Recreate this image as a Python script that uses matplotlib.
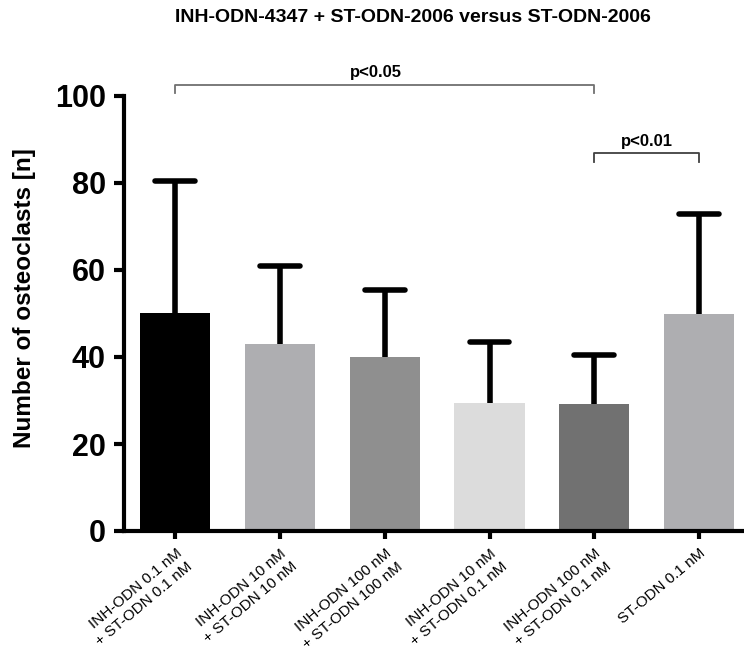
import matplotlib
matplotlib.use("Agg")
import matplotlib.pyplot as plt
import numpy as np

categories = ["INH-ODN 0.1 nM\n+ ST-ODN 0.1 nM",
              "INH-ODN 10 nM\n+ ST-ODN 10 nM",
              "INH-ODN 100 nM\n+ ST-ODN 100 nM",
              "INH-ODN 10 nM\n+ ST-ODN 0.1 nM",
              "INH-ODN 100 nM\n+ ST-ODN 0.1 nM",
              "ST-ODN 0.1 nM"]
means = [50.1, 43.0, 40.0, 29.5, 29.2, 49.8]
sd_upper = [30.4, 18.0, 15.5, 14.0, 11.2, 23.0]
colors = ["#000000", "#aeaeb1", "#8f8f8f", "#dcdcdc", "#717171", "#aeaeb1"]
yticks = [0, 20, 40, 60, 80, 100]

plt.rcParams['font.family'] = ['Liberation Sans', 'DejaVu Sans']

fig = plt.figure(figsize=(7.44, 6.55), dpi=100)
W, H = 744, 655
ax_left, ax_right = 124, 744
ax_bottom, ax_top = 531, 96
ax = fig.add_axes([ax_left / W, 1 - ax_bottom / H, (ax_right - ax_left) / W, (ax_bottom - ax_top) / H])
ax.patch.set_alpha(0)

x = np.arange(len(means))
top = np.array(means) + np.array(sd_upper)
ax.bar(x, means, width=0.67, color=colors, edgecolor='none', zorder=2)
ax.vlines(x, means, top, color='black', lw=4, zorder=3)
ax.hlines(top, x - 0.19, x + 0.19, color='black', lw=4, zorder=3, capstyle='round')

ax.set_xlim(-0.49, 5.43)
ax.set_ylim(0, 100)
for s in ['top', 'right']:
    ax.spines[s].set_visible(False)
for s in ['left', 'bottom']:
    ax.spines[s].set_linewidth(3)

ax.set_yticks(yticks)
ax.set_yticklabels([str(v) for v in yticks], fontsize=22, fontweight='bold')
ax.tick_params(axis='y', length=7, width=3, pad=6)
ax.tick_params(axis='x', length=6, width=3, pad=5)
ax.set_xticks(x)
ax.set_xticklabels(categories, rotation=40, ha='right', rotation_mode='anchor',
                   fontsize=11, multialignment='right', linespacing=1.3)

ax.set_ylabel("Number of osteoclasts [n]", fontsize=17.5, fontweight='bold')
ax.yaxis.set_label_coords((36 - ax_left) / (ax_right - ax_left), 0.535)

fig.text(413 / W, 1 - 18 / H, "INH-ODN-4347 + ST-ODN-2006 versus ST-ODN-2006",
         ha='center', va='center', fontsize=14, fontweight='bold')

# significance brackets (in data coordinates, above axes)
def bracket(x0, x1, y, drop, text, tx, color):
    ax.plot([x0, x0, x1, x1], [y - drop, y, y, y - drop], color=color, lw=1.3,
            clip_on=False, zorder=4)
    ax.text(tx, y + 1.0, text, ha='center', va='bottom', fontsize=12,
            fontweight='bold', clip_on=False)

bracket(0, 4, 102.6, 2.0, "p<0.05", 1.92, "#707070")
bracket(4, 5, 86.9, 2.0, "p<0.01", 4.5, "#404040")

fig.savefig("out.png", dpi=100)
